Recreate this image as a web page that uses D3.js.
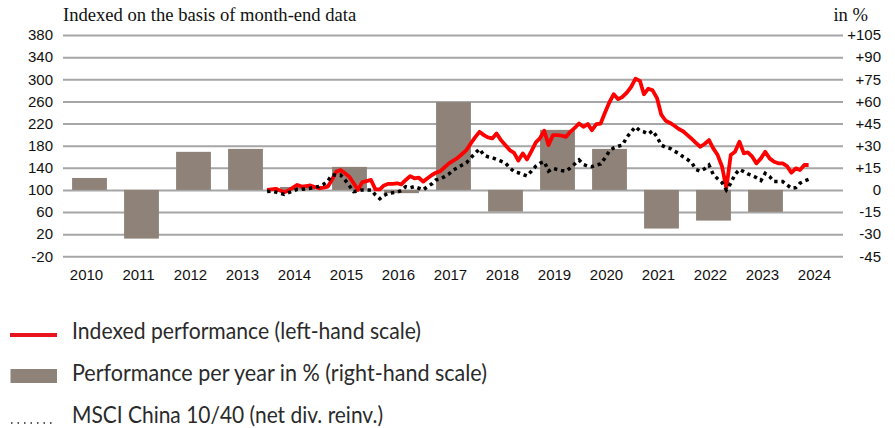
<!DOCTYPE html>
<html>
<head>
<meta charset="utf-8">
<script src="https://cdn.jsdelivr.net/npm/d3@7"></script>
<style>
  body { margin: 0; background: #fff; }
  svg { display: block; }
</style>
</head>
<body>
<svg width="895" height="428"></svg>
<script>
// years on the x axis and the yearly performance bars (right-hand scale, %)
const years = [2010, 2011, 2012, 2013, 2014, 2015, 2016, 2017, 2018, 2019, 2020, 2021, 2022, 2023, 2024];
const yearPerf = [8.1, -33, 25.8, 27.8, 2, 15.6, -2.2, 59.5, -14.7, 40.7, 27.8, -26.2, -20.8, -14.9, null];

const leftTicks = [-20, 20, 60, 100, 140, 180, 220, 260, 300, 340, 380];
const rightTicks = [-45, -30, -15, 0, 15, 30, 45, 60, 75, 90, 105];

// monthly month-end values, first point = end of Nov 2013
const firstMonth = new Date(2013, 11, 1);
const indexed = [100, 101, 102, 99, 96, 99, 104, 109, 106, 107, 108, 105, 103, 104, 106, 118, 133, 136, 130, 124,
  112, 100, 114, 116, 118, 101, 101, 108, 111, 111, 112, 110, 118, 125, 121, 122, 115, 121, 127, 131,
  134, 141, 148, 153, 158, 165, 172, 184, 195, 205, 199, 195, 193, 202, 190, 181, 172, 167, 153, 166,
  155, 170, 186, 193, 207, 181, 199, 199, 198, 196, 205, 212, 220, 214, 219, 208, 219, 220, 240, 258,
  273, 264, 268, 276, 286, 301, 297, 273, 283, 280, 266, 236, 225, 221, 216, 210, 206, 199, 192, 185,
  178, 183, 190, 175, 163, 142, 103, 163, 169, 187, 166, 168, 160, 148, 157, 169, 157, 151, 148, 148,
  143, 131, 139, 136, 145, 145];
const msci = [97, 98, 96, 94, 92, 95, 98, 101, 101, 102, 103, 105, 106, 110, 116, 127, 127, 127, 118, 108,
  97, 98, 100, 100, 100, 91, 84, 90, 94, 95, 96, 99, 106, 104, 106, 103, 100, 106, 111, 118,
  120, 124, 129, 136, 140, 145, 149, 158, 166, 174, 163, 160, 158, 155, 152, 149, 140, 133, 131, 128,
  125, 134, 143, 148, 151, 134, 139, 137, 135, 134, 140, 147, 154, 146, 143, 142, 145, 147, 158, 170,
  176, 179, 181, 195, 205, 214, 207, 205, 201, 207, 196, 181, 177, 175, 170, 166, 160, 155, 149, 137,
  134, 138, 145, 128, 120, 113, 100, 112, 128, 137, 133, 129, 126, 122, 117, 130, 124, 115, 115, 115,
  109, 103, 104, 112, 116, 119];

const legendItems = [
  "Indexed performance (left-hand scale)",
  "Performance per year in % (right-hand scale)",
  "MSCI China 10/40 (net div. reinv.)"
];
const legendWidths = [349, 415, 311];

const svg = d3.select("svg");
const plot = {left: 63.5, right: 843.5, top: 35, bottom: 256.3};

const x = d3.scaleBand()
  .domain(years)
  .range([plot.left, plot.right])
  .paddingInner(0.33)
  .paddingOuter(0.165);
const xTime = d3.scaleTime()
  .domain([new Date(2010, 0, 1), new Date(2025, 0, 1)])
  .range([plot.left, plot.right]);
const yL = d3.scaleLinear().domain([-20, 380]).range([plot.bottom, plot.top]);
const yR = d3.scaleLinear().domain([-45, 105]).range([plot.bottom, plot.top]);

const tickFont = "'Liberation Sans', Arial, sans-serif";

// gridlines + left labels
const leftAxis = svg.append("g")
  .attr("transform", `translate(${plot.left - 0.5},0)`)
  .call(d3.axisLeft(yL).tickValues(leftTicks).tickFormat(d => String(d))
    .tickSize(-(plot.right - plot.left)).tickPadding(10));
leftAxis.select(".domain").remove();
leftAxis.selectAll("line").attr("stroke", "#a6a6a6").attr("stroke-width", 2);
leftAxis.selectAll("text").attr("font-family", tickFont).attr("font-size", 15).attr("fill", "#111");

// right labels
const rightAxis = svg.append("g")
  .attr("transform", `translate(${plot.right},0)`)
  .call(d3.axisRight(yR).tickValues(rightTicks).tickFormat(d => d > 0 ? "+" + d : String(d))
    .tickSize(0));
rightAxis.select(".domain").remove();
rightAxis.selectAll("text").attr("text-anchor", "end").attr("x", 37.5)
  .attr("font-family", tickFont).attr("font-size", 15).attr("fill", "#111");

// yearly bars
const barData = years.map((yr, i) => ({year: yr, v: yearPerf[i]})).filter(d => d.v !== null);
svg.append("g").selectAll("rect")
  .data(barData)
  .join("rect")
  .attr("x", d => x(d.year))
  .attr("width", x.bandwidth())
  .attr("y", d => yR(Math.max(0, d.v)))
  .attr("height", d => Math.abs(yR(d.v) - yR(0)))
  .attr("fill", "#8f8379");

// x axis labels
const xAxis = svg.append("g")
  .attr("transform", `translate(0,${plot.bottom})`)
  .call(d3.axisBottom(x).tickSize(0).tickPadding(13));
xAxis.select(".domain").remove();
xAxis.selectAll("text").attr("x", -3)
  .attr("font-family", tickFont).attr("font-size", 15).attr("fill", "#111");

// lines
const monthDate = i => d3.timeMonth.offset(firstMonth, i);
const line = d3.line().x((d, i) => xTime(monthDate(i))).y(d => yL(d)).curve(d3.curveLinear);

svg.append("path")
  .datum(indexed)
  .attr("d", line)
  .attr("fill", "none")
  .attr("stroke", "#ff0000")
  .attr("stroke-width", 3.8)
  .attr("stroke-linejoin", "round");

svg.append("path")
  .datum(msci)
  .attr("d", line)
  .attr("fill", "none")
  .attr("stroke", "#000")
  .attr("stroke-width", 3.5)
  .attr("stroke-dasharray", "3.4,3.8");

// titles
svg.append("text")
  .attr("x", 63).attr("y", 21)
  .attr("font-family", "'Liberation Serif', 'Times New Roman', serif")
  .attr("font-size", 18.6).attr("fill", "#111")
  .text("Indexed on the basis of month-end data");
svg.append("text")
  .attr("x", 868).attr("y", 21).attr("text-anchor", "end")
  .attr("font-family", "'Liberation Serif', 'Times New Roman', serif")
  .attr("font-size", 18.6).attr("fill", "#111")
  .text("in %");

// legend
const legend = svg.append("g").attr("font-family", "Lato, 'Noto Sans', sans-serif")
  .attr("font-size", 22.5).attr("fill", "#2a2a2a");
legend.append("line")
  .attr("x1", 10).attr("x2", 57).attr("y1", 335).attr("y2", 335)
  .attr("stroke", "#e8141e").attr("stroke-width", 4);
legend.append("rect")
  .attr("x", 10.5).attr("y", 369).attr("width", 46.5).attr("height", 14)
  .attr("fill", "#8f8379");
legend.append("line")
  .attr("x1", 11).attr("x2", 56).attr("y1", 423).attr("y2", 423)
  .attr("stroke", "#222").attr("stroke-width", 1.5).attr("stroke-dasharray", "1.5,5");
legend.selectAll("text.lbl")
  .data(legendItems)
  .join("text")
  .attr("class", "lbl")
  .attr("x", 72)
  .attr("y", (d, i) => 339 + i * 42)
  .attr("textLength", (d, i) => legendWidths[i])
  .attr("lengthAdjust", "spacingAndGlyphs")
  .text(d => d);
</script>
</body>
</html>
